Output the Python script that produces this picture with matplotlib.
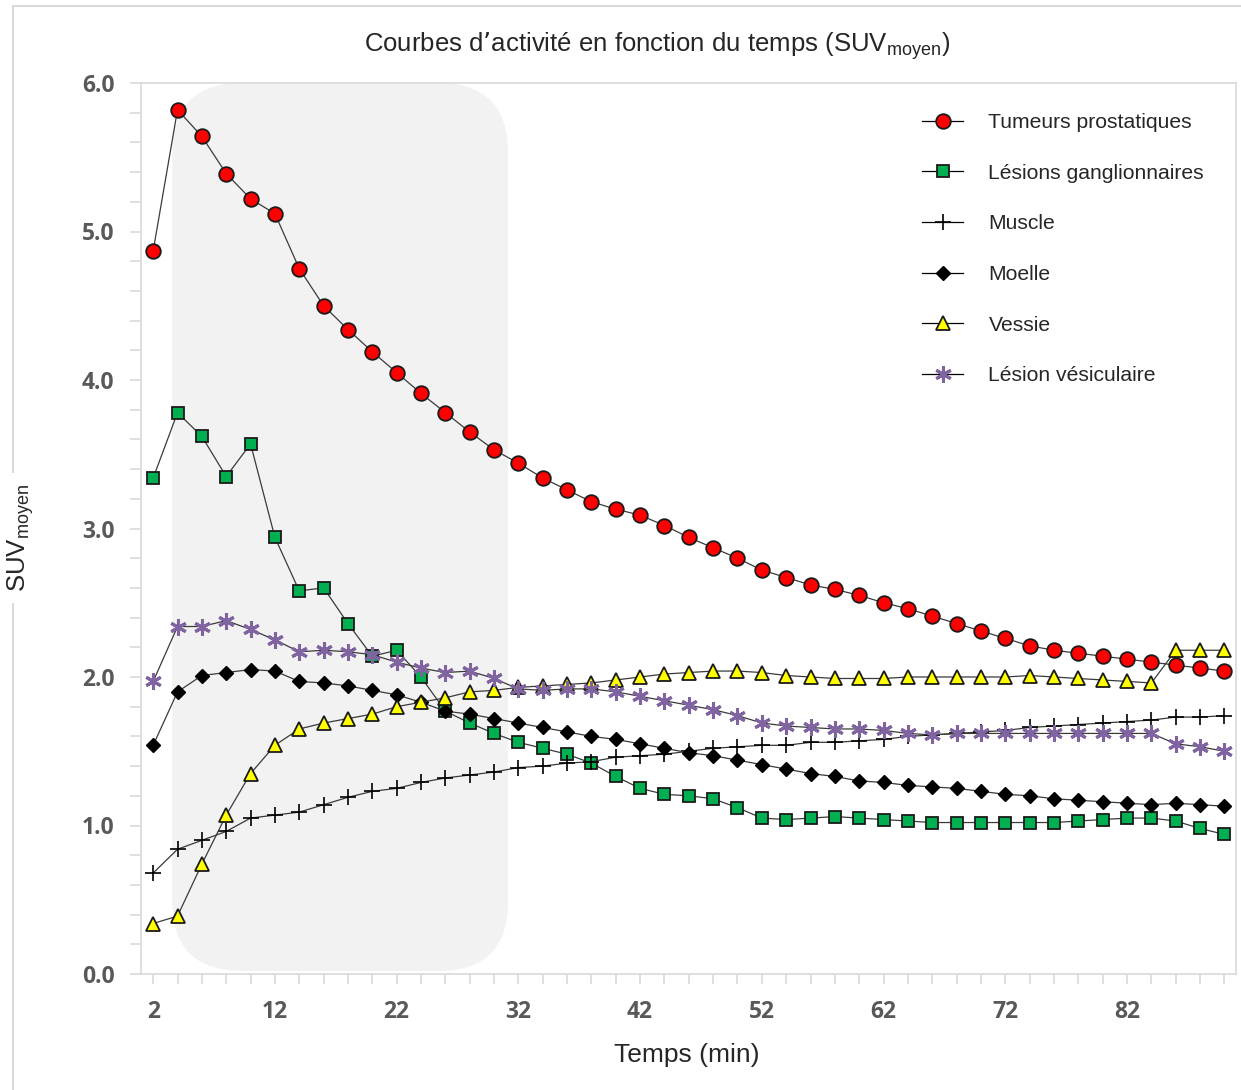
import matplotlib
matplotlib.use("Agg")
import matplotlib.pyplot as plt
from matplotlib.patches import FancyBboxPatch
from matplotlib.lines import Line2D
from matplotlib.ticker import MultipleLocator, FixedLocator

# ===============================
# 1. DONNEES (SUV moyen toutes les 2 min)
# ===============================

temps = list(range(2, 92, 2))

tumeurs = [4.87, 5.82, 5.64, 5.39, 5.22, 5.12, 4.75, 4.50, 4.34, 4.19,
           4.05, 3.91, 3.78, 3.65, 3.53, 3.44, 3.34, 3.26, 3.18, 3.13,
           3.09, 3.02, 2.94, 2.87, 2.80, 2.72, 2.67, 2.62, 2.59, 2.55,
           2.50, 2.46, 2.41, 2.36, 2.31, 2.26, 2.21, 2.18, 2.16, 2.14,
           2.12, 2.10, 2.08, 2.06, 2.04]

ganglions = [3.34, 3.78, 3.62, 3.35, 3.57, 2.94, 2.58, 2.60, 2.36, 2.14,
             2.18, 2.00, 1.77, 1.69, 1.62, 1.56, 1.52, 1.48, 1.42, 1.33,
             1.25, 1.21, 1.20, 1.18, 1.12, 1.05, 1.04, 1.05, 1.06, 1.05,
             1.04, 1.03, 1.02, 1.02, 1.02, 1.02, 1.02, 1.02, 1.03, 1.04,
             1.05, 1.05, 1.03, 0.98, 0.94]

muscle = [0.68, 0.84, 0.90, 0.96, 1.05, 1.07, 1.09, 1.14, 1.19, 1.23,
          1.25, 1.29, 1.32, 1.34, 1.36, 1.39, 1.40, 1.42, 1.43, 1.46,
          1.47, 1.48, 1.50, 1.52, 1.53, 1.54, 1.54, 1.56, 1.56, 1.57,
          1.58, 1.60, 1.61, 1.62, 1.63, 1.64, 1.66, 1.67, 1.68, 1.69,
          1.70, 1.71, 1.73, 1.73, 1.74]

moelle = [1.54, 1.90, 2.01, 2.03, 2.05, 2.04, 1.97, 1.96, 1.94, 1.91,
          1.88, 1.83, 1.77, 1.75, 1.72, 1.69, 1.66, 1.63, 1.60, 1.58,
          1.55, 1.52, 1.49, 1.47, 1.44, 1.41, 1.38, 1.35, 1.33, 1.30,
          1.29, 1.27, 1.26, 1.25, 1.23, 1.21, 1.20, 1.18, 1.17, 1.16,
          1.15, 1.14, 1.15, 1.14, 1.13]

vessie = [0.34, 0.39, 0.74, 1.07, 1.35, 1.54, 1.65, 1.69, 1.72, 1.75,
          1.80, 1.83, 1.86, 1.90, 1.91, 1.93, 1.94, 1.95, 1.96, 1.98,
          2.00, 2.02, 2.03, 2.04, 2.04, 2.03, 2.01, 2.00, 1.99, 1.99,
          1.99, 2.00, 2.00, 2.00, 2.00, 2.00, 2.01, 2.00, 1.99, 1.98,
          1.97, 1.96, 2.18, 2.18, 2.18]

vesicule = [1.97, 2.34, 2.34, 2.38, 2.32, 2.25, 2.17, 2.18, 2.17, 2.15,
            2.10, 2.06, 2.03, 2.04, 1.99, 1.92, 1.91, 1.92, 1.92, 1.90,
            1.87, 1.84, 1.81, 1.78, 1.74, 1.69, 1.67, 1.66, 1.65, 1.65,
            1.64, 1.62, 1.61, 1.62, 1.62, 1.62, 1.62, 1.62, 1.62, 1.62,
            1.62, 1.62, 1.55, 1.53, 1.50]

x_ticks = [2, 12, 22, 32, 42, 52, 62, 72, 82]

# ===============================
# 2. STYLE
# ===============================

plt.rcParams["font.family"] = ["Liberation Sans", "DejaVu Sans"]
plt.rcParams["mathtext.default"] = "regular"

grey_axis = "#d9d9d9"
grey_txt = "#595959"
dark_txt = "#262626"

fig = plt.figure(figsize=(12.41, 10.9), dpi=100)
ax = fig.add_axes([141 / 1241, 1 - 974 / 1090, (1236 - 141) / 1241, (974 - 83) / 1090])

# zone grisee arrondie (premieres minutes)
ax_sx = 12.175   # px par minute
ax_sy = 148.5    # px par unite de SUV
r = 70 / ax_sx
zone = FancyBboxPatch((3.56, 0.02), 31.16 - 3.56, 6.0 - 0.02,
                      boxstyle="round,pad=0,rounding_size=%.3f" % r,
                      mutation_aspect=ax_sx / ax_sy,
                      facecolor="#f2f2f2", edgecolor="none", zorder=0)
ax.add_patch(zone)

# ===============================
# 3. COURBES
# ===============================

line_kw = dict(color="#3a3a3a", linewidth=0.9, zorder=3)

ax.plot(temps, tumeurs, marker="o", markersize=10.5, markerfacecolor="#ff0000",
        markeredgecolor="#1a1a1a", markeredgewidth=1.3, label="Tumeurs prostatiques", **line_kw)
ax.plot(temps, ganglions, marker="s", markersize=9, markerfacecolor="#00b050",
        markeredgecolor="#1a1a1a", markeredgewidth=1.3, label="Lésions ganglionnaires", **line_kw)
ax.plot(temps, muscle, marker="+", markersize=11, markeredgecolor="#000000",
        markeredgewidth=1.2, label="Muscle", **line_kw)
ax.plot(temps, moelle, marker="D", markersize=7.5, markerfacecolor="#000000",
        markeredgecolor="#000000", label="Moelle", **line_kw)
ax.plot(temps, vessie, marker="^", markersize=10.5, markerfacecolor="#ffff00",
        markeredgecolor="#1a1a1a", markeredgewidth=1.3, label="Vessie", **line_kw)
ax.plot(temps, vesicule, marker=(6, 2, 0), markersize=12, markeredgecolor="#8064a2",
        markeredgewidth=2.2, label="Lésion vésiculaire", **line_kw)

# ===============================
# 4. AXES
# ===============================

ax.set_xlim(1, 90.95)
ax.set_ylim(0, 6.0)

for s in ax.spines.values():
    s.set_color(grey_axis)
    s.set_linewidth(1.2)

ax.xaxis.set_major_locator(FixedLocator(x_ticks))
ax.xaxis.set_minor_locator(FixedLocator(temps))
ax.yaxis.set_major_locator(MultipleLocator(1.0))
ax.yaxis.set_minor_locator(MultipleLocator(0.2))
ax.yaxis.set_major_formatter(matplotlib.ticker.FormatStrFormatter("%.1f"))

ax.tick_params(axis="both", which="both", direction="out", color=grey_axis, width=1.2)
ax.tick_params(axis="x", which="both", length=7, pad=12)
ax.tick_params(axis="y", which="both", length=8, pad=11)

for lab in ax.get_xticklabels() + ax.get_yticklabels():
    lab.set_fontfamily(["Open Sans", "DejaVu Sans"])
    lab.set_fontweight("bold")
    lab.set_fontsize(16.5)
    lab.set_color(grey_txt)

# titres
fig.text(657 / 1241, 1 - 46 / 1090, "Courbes d’activité en fonction du temps (SUV$_{moyen}$)",
         ha="center", va="center", fontsize=18.5, color=dark_txt)
fig.text(687 / 1241, 1 - 1055 / 1090, "Temps (min)", ha="center", va="center",
         fontsize=19, color=dark_txt)
fig.text(21 / 1241, 1 - 538 / 1090, "SUV$_{moyen}$", ha="center", va="center",
         rotation=90, fontsize=18.5, color=dark_txt,
         bbox=dict(facecolor="white", edgecolor="none", pad=8))

# cadre exterieur
fig.add_artist(Line2D([13 / 1241, 1], [1 - 6 / 1090, 1 - 6 / 1090], color=grey_axis, linewidth=1.5, zorder=-1))
fig.add_artist(Line2D([13 / 1241, 13 / 1241], [0, 1 - 6 / 1090], color=grey_axis, linewidth=1.5, zorder=-1))

# ===============================
# 5. LEGENDE
# ===============================

leg = ax.legend(loc="upper left", bbox_to_anchor=(922 / 1241, 1 - 113 / 1090),
                bbox_transform=fig.transFigure, frameon=False, fontsize=15.2,
                handlelength=1.95, handletextpad=1.2, labelspacing=1.5,
                borderpad=0, borderaxespad=0)
for t in leg.get_texts():
    t.set_color(dark_txt)
for h in leg.legend_handles:
    h.set_color("#000000")

fig.savefig("out.png", dpi=100)
print("Figure sauvegardee : out.png")
